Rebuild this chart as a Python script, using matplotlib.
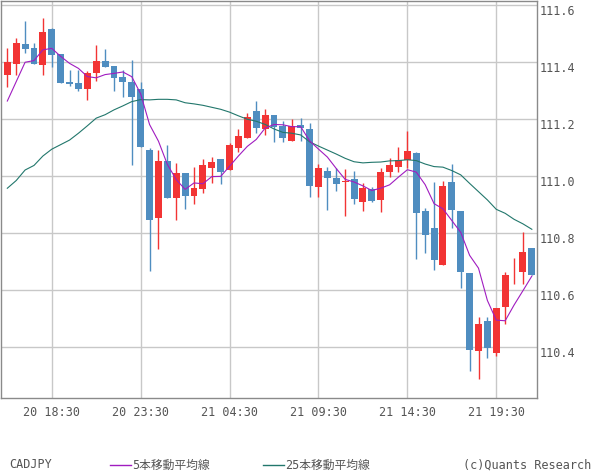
import matplotlib
matplotlib.use('Agg')
import matplotlib.pyplot as plt
from matplotlib.lines import Line2D
import numpy as np

# 30-minute candles, CADJPY (20 16:00 .. 21 21:30)
opens = [111.355, 111.394, 111.463, 111.449, 111.391, 111.516, 111.428, 111.330, 111.326, 111.306,
         111.363, 111.404, 111.386, 111.347, 111.330, 111.305, 111.091, 110.854, 111.053, 110.924,
         111.011, 110.931, 110.955, 111.028, 111.060, 111.022, 111.098, 111.134, 111.228, 111.166,
         111.214, 111.176, 111.124, 111.178, 111.165, 110.963, 111.018, 110.993, 110.978, 110.990,
         110.910, 110.955, 110.917, 111.014, 111.032, 111.056, 111.081, 110.877, 110.818, 110.689,
         110.979, 110.877, 110.659, 110.387, 110.491, 110.380, 110.541, 110.665, 110.664, 110.747]
highs = [111.449, 111.484, 111.544, 111.467, 111.554, 111.518, 111.428, 111.372, 111.372, 111.369,
         111.460, 111.446, 111.386, 111.372, 111.407, 111.330, 111.097, 111.091, 111.109, 111.046,
         111.011, 111.032, 111.060, 111.067, 111.060, 111.116, 111.165, 111.221, 111.263, 111.235,
         111.214, 111.193, 111.200, 111.204, 111.186, 111.042, 111.032, 111.028, 111.025, 111.018,
         110.977, 110.963, 111.028, 111.063, 111.102, 111.158, 111.084, 110.887, 110.980, 110.982,
         111.043, 110.877, 110.659, 110.506, 110.506, 110.538, 110.663, 110.713, 110.804, 110.748]
lows = [111.313, 111.354, 111.433, 111.392, 111.355, 111.384, 111.327, 111.317, 111.299, 111.268,
        111.334, 111.384, 111.299, 111.278, 111.040, 111.103, 110.668, 110.745, 110.924, 110.847,
        110.885, 110.903, 110.941, 110.977, 110.973, 111.022, 111.084, 111.134, 111.152, 111.145,
        111.120, 111.120, 111.124, 111.124, 110.927, 110.927, 110.882, 110.948, 110.861, 110.903,
        110.878, 110.910, 110.875, 110.998, 111.014, 111.028, 110.708, 110.731, 110.671, 110.689,
        110.819, 110.608, 110.317, 110.289, 110.362, 110.369, 110.482, 110.622, 110.622, 110.654]
closes = [111.400, 111.467, 111.447, 111.394, 111.505, 111.426, 111.327, 111.324, 111.306, 111.361,
          111.404, 111.384, 111.345, 111.331, 111.278, 111.103, 110.846, 111.053, 110.924, 111.011,
          110.931, 110.959, 111.039, 111.049, 111.015, 111.109, 111.140, 111.207, 111.170, 111.214,
          111.173, 111.134, 111.174, 111.170, 110.966, 111.028, 110.994, 110.973, 110.980, 110.920,
          110.959, 110.913, 111.014, 111.039, 111.056, 111.088, 110.871, 110.794, 110.706, 110.965,
          110.882, 110.664, 110.391, 110.481, 110.398, 110.537, 110.653, 110.667, 110.733, 110.654]
# 5-bar MA values for the first four candles (earlier closes not shown)
ma5_head = [111.263, 111.331, 111.399, 111.405]
# 25-bar MA
ma25 = [110.957, 110.984, 111.021, 111.037, 111.070, 111.094, 111.110, 111.126, 111.150, 111.176,
        111.203, 111.215, 111.232, 111.246, 111.261, 111.268, 111.267, 111.269, 111.269, 111.267,
        111.257, 111.253, 111.248, 111.241, 111.234, 111.224, 111.211, 111.199, 111.192, 111.181,
        111.165, 111.153, 111.150, 111.144, 111.120, 111.105, 111.091, 111.077, 111.062, 111.050,
        111.046, 111.048, 111.049, 111.053, 111.054, 111.057, 111.054, 111.042, 111.033, 111.031,
        111.019, 111.004, 110.974, 110.945, 110.916, 110.883, 110.869, 110.848, 110.832, 110.813]

tick_idx = [5, 15, 25, 35, 45, 55]
tick_labels = ['20 18:30', '20 23:30', '21 04:30', '21 09:30', '21 14:30', '21 19:30']
yticks = [110.4, 110.6, 110.8, 111.0, 111.2, 111.4, 111.6]
ytick_labels = ['110.4', '110.6', '110.8', '111.0', '111.2', '111.4', '111.6']

symbol = 'CADJPY'
legend_ma5 = '5本移動平均線'
legend_ma25 = '25本移動平均線'
credit = '(c)Quants Research'

FONT = ['DejaVu Sans Mono', 'Noto Sans CJK JP']
plt.rcParams['font.family'] = FONT

RED = '#f23434'
BLUE = '#4f8dc0'
PURPLE = '#a01cc0'
TEAL = '#22776c'
TXT = '#555555'

W, H = 600, 475
fig = plt.figure(figsize=(W / 100, H / 100), dpi=100)
ax = fig.add_axes([1 / W, 77 / H, 536 / W, 397 / H])

n = len(closes)
idx = np.arange(n)
o = np.array(opens); c = np.array(closes); h = np.array(highs); l = np.array(lows)
up = c >= o
colors = np.where(up, RED, BLUE)
bottoms = np.minimum(o, c)
heights = np.maximum(np.abs(c - o), 0.003)

ax.vlines(idx, l, h, colors=colors, linewidth=1.0, zorder=3)
ax.bar(idx, heights, bottom=bottoms, width=0.78, color=colors, linewidth=0, zorder=4)

ma5 = list(ma5_head) + [float(np.mean(c[i - 4:i + 1])) for i in range(4, n)]
ax.plot(idx, ma25, color=TEAL, linewidth=0.8, zorder=5)
ax.plot(idx, ma5, color=PURPLE, linewidth=0.8, zorder=6)

ax.set_xlim(-0.71, 59.58)
ax.set_ylim(110.221, 111.614)
ax.set_xticks(tick_idx)
ax.set_xticklabels(tick_labels)
ax.set_yticks(yticks)
ax.set_yticklabels(ytick_labels)
ax.grid(True, color='#c8c8c8', linewidth=1.0, zorder=0)
ax.set_axisbelow(True)
ax.yaxis.tick_right()
ax.tick_params(axis='y', length=0, pad=2, labelsize=8.5, labelcolor=TXT)
ax.tick_params(axis='x', length=0, pad=6, labelsize=8.5, labelcolor=TXT)
for t in ax.get_yticklabels():
    t.set_va('top')
for sp in ax.spines.values():
    sp.set_color('#8a8a8a')
    sp.set_linewidth(1.0)

# bottom legend row
ly = 1 - 465 / H
fig.text(9 / W, ly, symbol, fontsize=8.5, color=TXT, va='center', ha='left')
fig.add_artist(Line2D([110 / W, 131 / W], [ly, ly], color=PURPLE, linewidth=1.0, transform=fig.transFigure))
fig.text(132 / W, ly, legend_ma5, fontsize=8.5, color=TXT, va='center', ha='left')
fig.add_artist(Line2D([263 / W, 284 / W], [ly, ly], color=TEAL, linewidth=1.0, transform=fig.transFigure))
fig.text(285 / W, ly, legend_ma25, fontsize=8.5, color=TXT, va='center', ha='left')
fig.text(591 / W, ly, credit, fontsize=8.5, color=TXT, va='center', ha='right')

fig.savefig('out.png', dpi=100, facecolor='white')
